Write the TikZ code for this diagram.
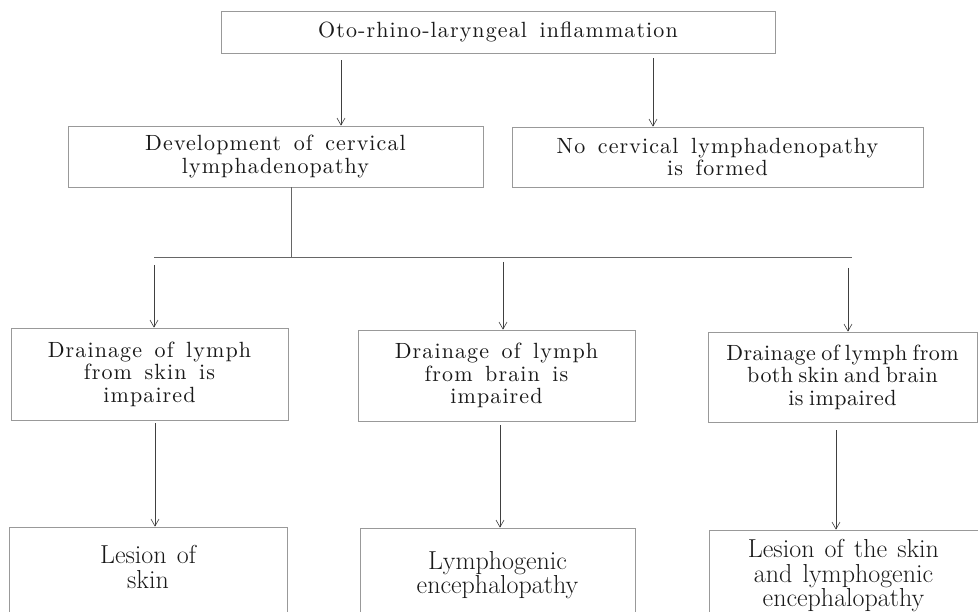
\documentclass[tikz,border=0pt]{standalone}
\usepackage{fontspec}
\setmainfont{Latin Modern Roman}
\newfontfamily\boxfont{lmroman10-regular}[Extension=.otf, LetterSpace=5, WordSpace=1.5]
\newfontfamily\tightfont{lmroman10-regular}[Extension=.otf, LetterSpace=2, WordSpace=0.7]
\newfontfamily\lowfont{lmroman17-regular}[Extension=.otf, WordSpace=1.3]
\usetikzlibrary{arrows.meta}
\begin{document}
\begin{tikzpicture}[x=1pt,y=-1pt,
  box/.style={draw=black!40, line width=0.7pt, inner sep=0pt, align=center,
    text=black!90, font=\boxfont\fontsize{22}{22.5}\selectfont},
  tightbox/.style={box, font=\tightfont\fontsize{22}{22.5}\selectfont},
  lowframe/.style={draw=black!40, line width=0.7pt, inner sep=0pt, minimum height=110},
  lowtext/.style={inner sep=0pt, align=center, text=black!90, font=\lowfont\fontsize{26}{24.5}\selectfont},
  ln/.style={draw=black!60, line width=0.6pt},
  arr/.style={ln, draw=black!75, -{Straight Barb[length=7pt,width=8pt]}}]
\useasboundingbox (0,0) rectangle (978,612);
\clip (0,0) rectangle (978,612);
\fill[white] (0,0) rectangle (978,612);

\node[box, minimum width=554, minimum height=42] (top) at (498,32) {Oto-rhino-laryngeal inflammation};
\node[box, minimum width=415, minimum height=61] (dev) at (275.5,156.5) {Development of cervical\\lymphadenopathy};
\node[box, minimum width=411, minimum height=60] (nocl) at (717.5,157) {No cervical lymphadenopathy\\is formed};

\node[box, minimum width=277, minimum height=92] (dskin) at (149.5,374) {Drainage of lymph\\from skin is\\impaired};
\node[box, minimum width=277, minimum height=91] (dbrain) at (496.5,375.5) {Drainage of lymph\\from brain is\\impaired};
\node[tightbox, minimum width=269, minimum height=90] (dboth) at (842.5,377) {Drainage of lymph from\\both skin and brain\\is impaired};

\node[lowframe, minimum width=278] (lskin) at (148,582) {};
\node[lowframe, minimum width=275] (lenc) at (497.5,583) {};
\node[lowframe, minimum width=269] (lboth) at (843.5,585) {};
\node[lowtext] (lskintxt) at (lskin.north |- 0,567) {Lesion of\\skin};
\node[lowtext] (lenctxt) at (lenc.north |- 0,575) {Lymphogenic\\encephalopathy};
\node[lowtext] (lbothtxt) at (lboth.north |- 0,576) {Lesion of the skin\\and lymphogenic\\encephalopathy};

\coordinate (bus) at (291,257);
\coordinate (busL) at (154,257);
\coordinate (busR) at (852,257);

\draw[arr, shorten <=7pt] (top.south -| 341,0) -- (dev.north -| 341,0);
\draw[arr, shorten <=5pt] (top.south -| 653,0) -- (nocl.north -| 653,0);

\draw[ln] (dev.south -| bus) -- (bus);
\draw[ln] (busL) -- (busR);

\draw[arr, shorten <=8pt] (busL) -- (dskin.north -| busL);
\draw[arr, shorten <=5pt] (503,257) -- (dbrain.north -| 503,0);
\draw[arr, shorten <=11pt] (848,257) -- (dboth.north -| 848,0);

\draw[arr, shorten <=3pt] (dskin.south -| 155,0) -- (lskin.north -| 155,0);
\draw[arr, shorten <=4pt] (dbrain.south -| 500,0) -- (lenc.north -| 500,0);
\draw[arr, shorten <=8pt] (dboth.south -| 836,0) -- (lboth.north -| 836,0);
\end{tikzpicture}
\end{document}
